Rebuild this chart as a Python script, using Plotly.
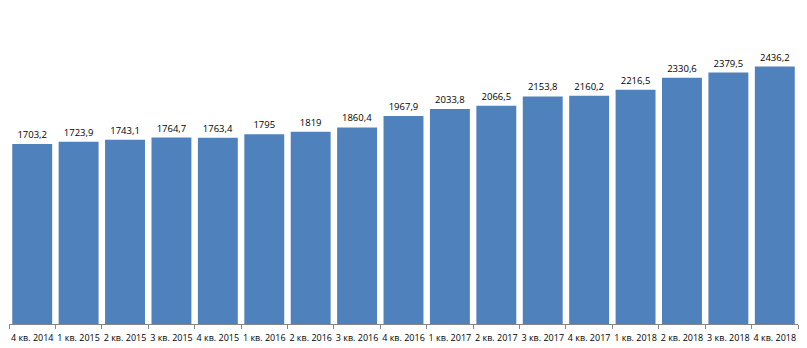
import plotly.graph_objects as go

categories = ["4 кв. 2014", "1 кв. 2015", "2 кв. 2015", "3 кв. 2015", "4 кв. 2015",
              "1 кв. 2016", "2 кв. 2016", "3 кв. 2016", "4 кв. 2016", "1 кв. 2017",
              "2 кв. 2017", "3 кв. 2017", "4 кв. 2017", "1 кв. 2018", "2 кв. 2018",
              "3 кв. 2018", "4 кв. 2018"]
values = [1703.2, 1723.9, 1743.1, 1764.7, 1763.4, 1795, 1819, 1860.4, 1967.9, 2033.8,
          2066.5, 2153.8, 2160.2, 2216.5, 2330.6, 2379.5, 2436.2]

labels = [(f"{v:.1f}".rstrip("0").rstrip(".")).replace(".", ",") for v in values]

fig = go.Figure(go.Bar(
    x=categories, y=values, text=labels, textposition="outside",
    textfont=dict(size=9.5, color="#000000", family="Open Sans"),
    marker=dict(color="#4F81BD", line=dict(width=0)),
    cliponaxis=False,
))

fig.update_layout(
    width=807, height=348,
    margin=dict(l=9, r=9, t=7, b=24, autoexpand=False),
    paper_bgcolor="white", plot_bgcolor="white",
    bargap=0.14,
    showlegend=False,
    font=dict(family="Open Sans", size=9, color="#000000"),
    uniformtext=dict(minsize=8, mode="show"),
)
fig.update_xaxes(
    showline=True, linecolor="#868686", linewidth=1,
    ticks="outside", tickson="boundaries", ticklen=4, tickcolor="#868686",
    tickfont=dict(size=9, family="Open Sans"), tickangle=0,
    ticklabelstandoff=5, automargin=False,
    showgrid=False,
)
fig.update_yaxes(range=[0, 3000], visible=False, showgrid=False, automargin=False)

fig.write_html("out.html")
